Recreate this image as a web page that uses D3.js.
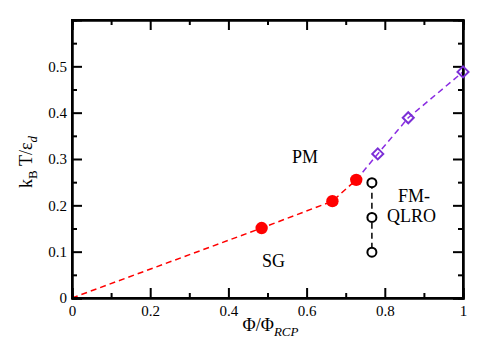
<!DOCTYPE html>
<meta charset="utf-8">
<script src="https://d3js.org/d3.v7.min.js"></script>
<html>
<head>
<style>
body { margin: 0; background: #fff; }
text { font-family: "Liberation Serif", "DejaVu Serif", serif; }
</style>
</head>
<body>
<div id="my_dataviz"></div>
<script>
// data
var sgX = [0, 0.485, 0.666, 0.727];
var sgY = [0, 0.151, 0.209, 0.255];
var pmX = [0.727, 0.782, 0.860, 1.0];
var pmY = [0.255, 0.311, 0.389, 0.488];
var fmX = [0.767, 0.767, 0.767];
var fmY = [0.249, 0.174, 0.099];
var xTicks = [0, 0.2, 0.4, 0.6, 0.8, 1];
var yTicks = [0, 0.1, 0.2, 0.3, 0.4, 0.5];

var margin = {top: 20, right: 35, bottom: 57, left: 72},
    width = 498 - margin.left - margin.right,
    height = 355 - margin.top - margin.bottom;

var svg = d3.select("#my_dataviz")
  .append("svg")
    .attr("width", 498)
    .attr("height", 355)
  .append("g")
    .attr("transform", "translate(" + margin.left + "," + margin.top + ")");

var x = d3.scaleLinear().domain([0, 1]).range([0, width]);
var y = d3.scaleLinear().domain([0, 0.6]).range([height, 0]);

function pts(xs, ys) { return xs.map(function(v, i) { return {x: v, y: ys[i]}; }); }
var line = d3.line().x(function(d) { return x(d.x); }).y(function(d) { return y(d.y); });

// dashed lines
svg.append("path").datum(pts(sgX, sgY))
  .attr("fill", "none").attr("stroke", "#ff0000").attr("stroke-width", 1.5)
  .attr("stroke-dasharray", "6,4").attr("d", line);
svg.append("path").datum(pts(pmX, pmY))
  .attr("fill", "none").attr("stroke", "#8a2be2").attr("stroke-width", 1.5)
  .attr("stroke-dasharray", "6,4").attr("d", line);
svg.append("path").datum(pts(fmX, fmY))
  .attr("fill", "none").attr("stroke", "#000").attr("stroke-width", 1.5)
  .attr("stroke-dasharray", "6,4").attr("d", line);

// axes, ticks inside on all four sides
function tickAxis(axis, scale, vals, size) {
  return axis(scale).tickValues(vals).tickSize(size).tickFormat("");
}
var minorX = d3.range(0.1, 1, 0.2);
var minorY = d3.range(0.05, 0.6, 0.1);
var gx = svg.append("g").attr("transform", "translate(0," + height + ")");
gx.call(d3.axisTop(x).tickValues(xTicks).tickSize(10).tickFormat(d3.format("")));
gx.append("g").call(tickAxis(d3.axisTop, x, minorX, 5));
var gx2 = svg.append("g");
gx2.call(tickAxis(d3.axisBottom, x, xTicks, 10));
gx2.append("g").call(tickAxis(d3.axisBottom, x, minorX, 5));
var gy = svg.append("g");
gy.call(d3.axisRight(y).tickValues(yTicks).tickSize(10).tickFormat(d3.format("")));
gy.append("g").call(tickAxis(d3.axisRight, y, minorY, 5));
var gy2 = svg.append("g").attr("transform", "translate(" + width + ",0)");
gy2.call(tickAxis(d3.axisLeft, y, yTicks, 10));
gy2.append("g").call(tickAxis(d3.axisLeft, y, minorY, 5));

svg.selectAll(".domain").attr("stroke", "#000").attr("stroke-width", 2);
svg.selectAll(".tick line").attr("stroke", "#000").attr("stroke-width", 2);
gx.selectAll(".tick text").attr("y", 7).attr("dy", "0.71em")
  .style("font-size", "15px").attr("fill", "#000");
gy.selectAll(".tick text").attr("x", -5).attr("text-anchor", "end")
  .style("font-size", "15px").attr("fill", "#000");
svg.append("rect").attr("width", width).attr("height", height)
  .attr("fill", "none").attr("stroke", "#000").attr("stroke-width", 2);

// markers
svg.selectAll(".sg").data(pts(sgX, sgY).slice(1)).enter().append("circle")
  .attr("cx", function(d) { return x(d.x); }).attr("cy", function(d) { return y(d.y); })
  .attr("r", 6.2).attr("fill", "#ff0000");
svg.selectAll(".pm").data(pts(pmX, pmY).slice(1)).enter().append("path")
  .attr("transform", function(d) { return "translate(" + x(d.x) + "," + y(d.y) + ")"; })
  .attr("d", "M0,-5.5L5.5,0L0,5.5L-5.5,0Z")
  .attr("fill", "none").attr("stroke", "#7b2fd6").attr("stroke-width", 2);
svg.selectAll(".fm").data(pts(fmX, fmY)).enter().append("circle")
  .attr("cx", function(d) { return x(d.x); }).attr("cy", function(d) { return y(d.y); })
  .attr("r", 4.5).attr("fill", "#fff").attr("stroke", "#000").attr("stroke-width", 2);

// region labels
svg.append("text").attr("x", 292 - margin.left).attr("y", 163 - margin.top)
  .style("font-size", "18px").text("PM");
svg.append("text").attr("x", 262 - margin.left).attr("y", 267 - margin.top)
  .style("font-size", "18px").text("SG");
svg.append("text").attr("x", 398 - margin.left).attr("y", 202 - margin.top)
  .style("font-size", "18px").text("FM-");
svg.append("text").attr("x", 387 - margin.left).attr("y", 222 - margin.top)
  .style("font-size", "18px").text("QLRO");

// axis titles
var xl = svg.append("text").attr("x", width / 2 + 3).attr("y", height + 33)
  .attr("text-anchor", "middle").style("font-size", "18px");
xl.append("tspan").text("Φ/Φ");
xl.append("tspan").attr("dy", 5).style("font-size", "13px").style("font-style", "italic").text("RCP");

var yl = svg.append("text").attr("transform", "translate(-40," + (height / 2 + 3) + ") rotate(-90)")
  .attr("text-anchor", "middle").style("font-size", "18px");
yl.append("tspan").text("k");
yl.append("tspan").attr("dy", 5).style("font-size", "13px").text("B");
yl.append("tspan").attr("dy", -5).text(" T/ε");
yl.append("tspan").attr("dy", 5).style("font-size", "13px").style("font-style", "italic").text("d");
</script>
</body>
</html>
